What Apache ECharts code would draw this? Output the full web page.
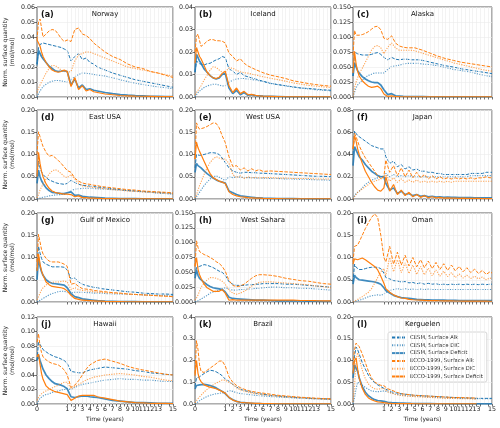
<!DOCTYPE html>
<html>
<head>
<meta charset="utf-8">
<script src="https://cdn.jsdelivr.net/npm/echarts@6/dist/echarts.min.js"></script>
<style>
html, body { margin: 0; padding: 0; background: #fff; }
#main { width: 500px; height: 428px; }
</style>
</head>
<body>
<div id="main"></div>
<script>
// time grids in years (first year is stretched on the axis)
var tShort = [0,0.05,0.1,0.15,0.2,0.3,0.4,0.5,0.6,0.7,0.8,0.9,1,
  1.5,2,2.5,3,3.5,4,4.5,5,5.5,6,
  7,8,9,10,11,12,13,14,15];
var tLong = [0,0.05,0.1,0.15,0.2,0.3,0.4,0.5,0.6,0.7,0.8,0.9,1,
  1.25,1.75,2.25,2.75,3.25,3.75,4.25,4.75,5.25,5.75,6.25,6.75,7.25,7.75,8.25,8.75,
  9.25,9.75,10.25,10.75,11.25,11.75,12.25,12.75,13.25,13.75,14.25,14.75,
  15];
var yearLabels = [0,1,2,3,4,5,6,7,8,9,10,11,12,13,14,15];
var yearTicks = [0,1,1.5,2,2.5,3,3.5,4,4.5,5,5.5,6,6.5,7,7.5,8,8.5,9,9.5,10,10.5,11,11.5,12,12.5,13,13.5,14,14.5,15];

var seriesNames = ['CESM, Surface Alk','CESM, Surface DIC','CESM, Surface Deficit',
  'ECCO-1999, Surface Alk','ECCO-1999, Surface DIC','ECCO-1999, Surface Deficit'];

// (a) Norway
var norwayCesmAlk = [0.021,0.033,0.035,0.036,0.036,0.0355,0.035,0.0345,0.034,0.0335,0.033,0.032,0.031,
  0.024,0.027,0.029,0.025,0.026,0.023,0.022,0.020,0.019,0.018,
  0.016,0.0145,0.013,0.0115,0.0105,0.0095,0.0085,0.0075,0.0065];
var norwayCesmDic = [0,0.002,0.004,0.0055,0.007,0.0085,0.0098,0.0105,0.011,0.011,0.0108,0.0103,0.010,
  0.0115,0.0135,0.015,0.016,0.0158,0.0155,0.015,0.0147,0.0143,0.014,
  0.0128,0.0115,0.0103,0.0092,0.0083,0.0075,0.0068,0.0062,0.0056];
var norwayCesmDef = [0.022,0.031,0.029,0.027,0.0255,0.023,0.0205,0.019,0.0175,0.017,0.0172,0.0175,0.017,
  0.008,0.012,0.006,0.008,0.005,0.0055,0.0045,0.004,0.0035,0.003,
  0.0022,0.0016,0.0012,0.0009,0.0007,0.0005,0.0004,0.0003,0.0002];
var norwayEccoAlk = [0.038,0.050,0.052,0.046,0.040,0.042,0.044,0.045,0.0445,0.042,0.039,0.037,0.038,
  0.037,0.045,0.046,0.042,0.041,0.039,0.036,0.034,0.032,0.030,
  0.027,0.025,0.022,0.020,0.019,0.017,0.016,0.0145,0.013];
var norwayEccoDic = [0.003,0.006,0.008,0.010,0.012,0.016,0.019,0.021,0.021,0.0195,0.018,0.017,0.0165,
  0.017,0.024,0.028,0.029,0.030,0.030,0.029,0.028,0.027,0.026,
  0.024,0.022,0.020,0.019,0.018,0.017,0.016,0.015,0.014];
var norwayEccoDef = [0.038,0.039,0.034,0.030,0.027,0.023,0.020,0.018,0.017,0.0165,0.017,0.018,0.017,
  0.007,0.013,0.005,0.0075,0.004,0.005,0.0035,0.003,0.0025,0.002,
  0.0015,0.001,0.0008,0.0006,0.0005,0.0004,0.0003,0.0003,0.0002];

// (b) Iceland
var icelandCesmAlk = [0.011,0.016,0.0155,0.0148,0.014,0.0142,0.0148,0.015,0.0158,0.0165,0.017,0.018,0.0175,
  0.0125,0.0115,0.010,0.011,0.0095,0.009,0.0085,0.008,0.0075,0.007,
  0.006,0.0055,0.005,0.0045,0.004,0.0038,0.0035,0.0032,0.003];
var icelandCesmDic = [0,0.001,0.002,0.0027,0.0032,0.0042,0.0049,0.0053,0.0057,0.0057,0.0053,0.0049,0.005,
  0.0065,0.0075,0.008,0.0082,0.0082,0.008,0.0078,0.0075,0.0072,0.0069,
  0.0062,0.0055,0.0049,0.0044,0.004,0.0036,0.0032,0.003,0.0027];
var icelandCesmDef = [0.011,0.019,0.0175,0.016,0.015,0.0125,0.011,0.0095,0.0085,0.008,0.0085,0.010,0.0105,
  0.004,0.0015,0.003,0.001,0.002,0.0008,0.001,0.0006,0.0005,0.0004,
  0.0003,0.0002,0.0001,0.0001,0.0001,0.0001,0.0001,0.0001,0.0001];
var icelandEccoAlk = [0.020,0.027,0.028,0.025,0.0225,0.0235,0.0248,0.0255,0.0255,0.025,0.025,0.0248,0.024,
  0.0195,0.018,0.016,0.017,0.015,0.0138,0.013,0.0122,0.0115,0.0108,
  0.0097,0.009,0.0082,0.0072,0.0066,0.006,0.0055,0.0051,0.0048];
var icelandEccoDic = [0.001,0.002,0.003,0.004,0.005,0.0075,0.0097,0.012,0.0134,0.0132,0.012,0.011,0.011,
  0.013,0.0128,0.0118,0.0112,0.0108,0.0106,0.0102,0.0098,0.0094,0.009,
  0.0083,0.0077,0.007,0.0063,0.0057,0.0052,0.0048,0.0045,0.0042];
var icelandEccoDef = [0.015,0.022,0.020,0.018,0.017,0.014,0.011,0.0095,0.0085,0.0082,0.0088,0.0105,0.0115,
  0.005,0.002,0.004,0.0015,0.0025,0.001,0.0012,0.0007,0.0005,0.0004,
  0.0003,0.0002,0.0001,0.0001,0.0001,0.0001,0.0001,0.0001,0.0001];

// (c) Alaska
var alaskaCesmAlk = [0.035,0.075,0.073,0.072,0.071,0.070,0.070,0.070,0.071,0.073,0.074,0.071,0.066,
  0.062,0.066,0.063,0.062,0.063,0.063,0.062,0.062,0.062,0.061,
  0.058,0.055,0.052,0.050,0.047,0.045,0.043,0.041,0.039];
var alaskaCesmDic = [0,0.008,0.015,0.020,0.023,0.028,0.033,0.036,0.038,0.040,0.040,0.040,0.040,
  0.046,0.051,0.052,0.053,0.055,0.056,0.056,0.056,0.056,0.055,
  0.054,0.052,0.049,0.046,0.044,0.042,0.039,0.036,0.034];
var alaskaCesmDef = [0.035,0.057,0.050,0.044,0.040,0.034,0.030,0.027,0.025,0.024,0.024,0.020,0.012,
  0.004,0.0055,0.002,0.0015,0.001,0.0008,0.0007,0.0006,0.0005,0.0005,
  0.0004,0.0003,0.0003,0.0002,0.0002,0.0002,0.0001,0.0001,0.0001];
var alaskaEccoAlk = [0.070,0.111,0.103,0.102,0.103,0.104,0.106,0.109,0.113,0.117,0.118,0.112,0.098,
  0.096,0.102,0.090,0.085,0.083,0.082,0.082,0.082,0.080,0.078,
  0.073,0.068,0.064,0.061,0.058,0.056,0.054,0.052,0.050];
var alaskaEccoDic = [0,0.015,0.025,0.032,0.039,0.048,0.058,0.068,0.078,0.084,0.086,0.082,0.072,
  0.083,0.090,0.082,0.078,0.078,0.078,0.078,0.077,0.075,0.073,
  0.069,0.065,0.061,0.057,0.054,0.051,0.048,0.045,0.043];
var alaskaEccoDef = [0.040,0.076,0.055,0.043,0.035,0.027,0.022,0.018,0.016,0.017,0.018,0.014,0.005,
  0.001,0.002,0.0008,0.0005,0.0004,0.0003,0.0003,0.0002,0.0002,0.0002,
  0.0001,0.0001,0.0001,0.0001,0.0001,0.0001,0.0001,0.0001,0.0001];

// (d) East USA
var eastUsaCesmAlk = [0.050,0.085,0.070,0.061,0.055,0.048,0.043,0.040,0.037,0.035,0.034,0.033,0.035,
  0.042,0.037,0.033,0.031,0.030,0.029,0.028,0.027,0.026,0.025,
  0.023,0.021,0.019,0.018,0.017,0.016,0.015,0.014,0.013];
var eastUsaCesmDic = [0,0.001,0.002,0.003,0.004,0.005,0.007,0.008,0.009,0.0095,0.010,0.0105,0.012,
  0.018,0.022,0.023,0.024,0.024,0.024,0.0235,0.023,0.0225,0.022,
  0.021,0.020,0.019,0.018,0.016,0.015,0.013,0.012,0.011];
var eastUsaCesmDef = [0.035,0.065,0.050,0.041,0.035,0.025,0.019,0.015,0.014,0.013,0.012,0.012,0.014,
  0.016,0.008,0.009,0.006,0.005,0.004,0.0035,0.003,0.0025,0.002,
  0.0015,0.001,0.001,0.0008,0.0006,0.0005,0.0004,0.0003,0.0003];
var eastUsaEccoAlk = [0.100,0.151,0.140,0.128,0.118,0.105,0.096,0.098,0.093,0.087,0.080,0.072,0.064,
  0.060,0.047,0.040,0.036,0.034,0.033,0.031,0.030,0.028,0.027,
  0.025,0.023,0.021,0.020,0.018,0.017,0.016,0.015,0.014];
var eastUsaEccoDic = [0.002,0.010,0.020,0.027,0.033,0.045,0.056,0.063,0.066,0.063,0.057,0.051,0.048,
  0.055,0.045,0.035,0.030,0.028,0.027,0.026,0.025,0.024,0.023,
  0.021,0.020,0.018,0.017,0.016,0.015,0.014,0.013,0.012];
var eastUsaEccoDef = [0.050,0.105,0.080,0.062,0.050,0.034,0.024,0.018,0.015,0.013,0.012,0.011,0.011,
  0.010,0.005,0.007,0.003,0.003,0.002,0.0018,0.0015,0.0012,0.001,
  0.0008,0.0005,0.0004,0.0004,0.0003,0.0003,0.0002,0.0002,0.0002];

// (e) West USA
var westUsaCesmAlk = [0.070,0.100,0.098,0.098,0.099,0.100,0.102,0.104,0.104,0.103,0.100,0.092,0.082,
  0.070,0.063,0.060,0.058,0.060,0.060,0.059,0.059,0.058,0.058,
  0.057,0.056,0.055,0.054,0.053,0.052,0.051,0.051,0.050];
var westUsaCesmDic = [0,0.004,0.010,0.015,0.020,0.030,0.038,0.045,0.050,0.052,0.049,0.045,0.042,
  0.050,0.048,0.050,0.049,0.048,0.048,0.048,0.047,0.047,0.047,
  0.046,0.046,0.045,0.045,0.044,0.044,0.043,0.043,0.042];
var westUsaCesmDef = [0.060,0.080,0.075,0.072,0.070,0.063,0.057,0.052,0.047,0.043,0.040,0.038,0.036,
  0.018,0.014,0.010,0.007,0.006,0.005,0.004,0.003,0.0025,0.002,
  0.0015,0.001,0.001,0.0008,0.0006,0.0005,0.0004,0.0003,0.0003];
var westUsaEccoAlk = [0.090,0.171,0.162,0.157,0.158,0.160,0.163,0.167,0.171,0.170,0.160,0.142,0.127,
  0.095,0.073,0.075,0.065,0.070,0.063,0.068,0.063,0.066,0.062,
  0.063,0.062,0.061,0.060,0.059,0.058,0.057,0.056,0.055];
var westUsaEccoDic = [0.002,0.010,0.020,0.030,0.038,0.055,0.070,0.082,0.090,0.095,0.092,0.090,0.090,
  0.080,0.055,0.048,0.052,0.046,0.050,0.047,0.049,0.047,0.048,
  0.048,0.047,0.047,0.046,0.046,0.046,0.045,0.045,0.045];
var westUsaEccoDef = [0.090,0.128,0.115,0.107,0.100,0.085,0.070,0.057,0.048,0.044,0.040,0.038,0.035,
  0.016,0.010,0.007,0.005,0.004,0.003,0.0025,0.002,0.0018,0.0015,
  0.001,0.0008,0.0006,0.0005,0.0004,0.0003,0.0003,0.0002,0.0002];

// (f) Japan (tLong)
var japanCesmAlk = [0.040,0.061,0.059,0.057,0.056,0.054,0.052,0.050,0.048,0.047,0.046,0.045,0.045,
  0.038,0.032,0.034,0.029,0.031,0.027,0.029,0.026,0.027,0.025,0.025,0.024,0.024,0.023,
  0.023,0.022,0.022,0.022,0.022,0.022,0.022,0.022,0.023,0.023,0.023,0.023,0.024,0.024,
  0.024];
var japanCesmDic = [0,0.003,0.005,0.006,0.007,0.010,0.013,0.015,0.017,0.018,0.019,0.020,0.021,
  0.023,0.020,0.022,0.020,0.021,0.020,0.021,0.020,0.020,0.020,0.020,0.020,0.020,0.020,
  0.020,0.020,0.020,0.020,0.020,0.020,0.020,0.020,0.021,0.021,0.021,0.021,0.021,0.021,
  0.021];
var japanCesmDef = [0.030,0.047,0.044,0.041,0.038,0.035,0.031,0.028,0.025,0.023,0.021,0.020,0.020,
  0.014,0.008,0.010,0.005,0.007,0.004,0.005,0.003,0.004,0.0025,0.003,0.002,0.0025,0.0018,
  0.002,0.0015,0.0016,0.0014,0.0014,0.0013,0.0013,0.0012,0.0012,0.0011,0.0011,0.001,0.001,0.001,
  0.001];
var japanEccoAlk = [0.045,0.059,0.056,0.052,0.048,0.042,0.037,0.033,0.029,0.025,0.021,0.018,0.020,
  0.035,0.024,0.030,0.021,0.028,0.020,0.026,0.019,0.024,0.019,0.022,0.018,0.021,0.018,
  0.020,0.018,0.019,0.018,0.019,0.018,0.019,0.018,0.019,0.018,0.019,0.019,0.020,0.019,
  0.0195];
var japanEccoDic = [0,0.002,0.004,0.006,0.007,0.009,0.011,0.013,0.015,0.016,0.017,0.018,0.020,
  0.022,0.016,0.019,0.015,0.018,0.015,0.017,0.015,0.017,0.015,0.016,0.015,0.016,0.015,
  0.016,0.015,0.016,0.015,0.016,0.016,0.016,0.016,0.016,0.016,0.016,0.016,0.016,0.016,
  0.016];
var japanEccoDef = [0.045,0.057,0.052,0.045,0.040,0.032,0.025,0.020,0.015,0.011,0.008,0.007,0.010,
  0.020,0.007,0.013,0.004,0.008,0.003,0.006,0.002,0.004,0.0015,0.003,0.0012,0.002,0.001,
  0.0015,0.0008,0.001,0.0007,0.0008,0.0006,0.0007,0.0005,0.0006,0.0005,0.0005,0.0004,0.0004,0.0004,
  0.0004];

// (g) Gulf of Mexico
var gulfCesmAlk = [0.070,0.125,0.110,0.098,0.090,0.085,0.082,0.079,0.079,0.079,0.079,0.078,0.072,
  0.052,0.054,0.045,0.040,0.037,0.035,0.033,0.032,0.030,0.029,
  0.027,0.025,0.023,0.022,0.020,0.019,0.018,0.018,0.017];
var gulfCesmDic = [0,0.002,0.004,0.006,0.008,0.012,0.016,0.019,0.021,0.023,0.024,0.024,0.022,
  0.020,0.022,0.022,0.022,0.021,0.021,0.020,0.020,0.020,0.019,
  0.018,0.018,0.017,0.017,0.016,0.016,0.015,0.015,0.015];
var gulfCesmDef = [0.050,0.100,0.080,0.068,0.060,0.050,0.045,0.042,0.041,0.040,0.039,0.038,0.032,
  0.019,0.012,0.010,0.007,0.006,0.005,0.004,0.003,0.0025,0.002,
  0.0015,0.001,0.001,0.0008,0.0006,0.0005,0.0004,0.0004,0.0003];
var gulfEccoAlk = [0.090,0.152,0.135,0.118,0.108,0.098,0.092,0.090,0.090,0.090,0.088,0.085,0.080,
  0.040,0.042,0.035,0.030,0.029,0.028,0.026,0.025,0.024,0.023,
  0.021,0.020,0.018,0.017,0.016,0.015,0.014,0.013,0.012];
var gulfEccoDic = [0.005,0.012,0.020,0.027,0.032,0.038,0.043,0.044,0.045,0.045,0.046,0.047,0.045,
  0.028,0.032,0.028,0.026,0.025,0.024,0.023,0.022,0.0215,0.021,
  0.020,0.019,0.018,0.017,0.016,0.015,0.014,0.013,0.012];
var gulfEccoDef = [0.070,0.108,0.085,0.070,0.060,0.045,0.039,0.035,0.034,0.033,0.032,0.030,0.025,
  0.015,0.008,0.006,0.004,0.0035,0.003,0.0025,0.002,0.0018,0.0015,
  0.001,0.0008,0.0006,0.0005,0.0004,0.0004,0.0003,0.0003,0.0002];

// (h) West Sahara
var saharaCesmAlk = [0.045,0.058,0.059,0.060,0.061,0.063,0.062,0.060,0.058,0.055,0.052,0.050,0.045,
  0.034,0.030,0.028,0.028,0.028,0.029,0.029,0.030,0.030,0.031,
  0.031,0.031,0.030,0.030,0.029,0.028,0.027,0.026,0.025];
var saharaCesmDic = [0,0.001,0.002,0.004,0.005,0.008,0.011,0.015,0.017,0.018,0.020,0.022,0.024,
  0.022,0.020,0.020,0.021,0.021,0.022,0.022,0.023,0.023,0.024,
  0.025,0.025,0.024,0.024,0.023,0.023,0.022,0.021,0.020];
var saharaCesmDef = [0.040,0.054,0.045,0.040,0.037,0.033,0.029,0.026,0.024,0.023,0.022,0.021,0.017,
  0.008,0.006,0.0055,0.005,0.0045,0.004,0.0035,0.003,0.003,0.003,
  0.0025,0.002,0.002,0.002,0.0018,0.0016,0.0014,0.0012,0.001];
var saharaEccoAlk = [0.060,0.103,0.092,0.085,0.082,0.080,0.078,0.075,0.072,0.068,0.065,0.060,0.052,
  0.036,0.028,0.026,0.027,0.030,0.035,0.040,0.044,0.046,0.046,
  0.045,0.043,0.040,0.038,0.036,0.035,0.033,0.031,0.030];
var saharaEccoDic = [0.003,0.007,0.012,0.018,0.025,0.032,0.037,0.041,0.041,0.040,0.038,0.035,0.030,
  0.020,0.015,0.013,0.015,0.018,0.022,0.027,0.030,0.033,0.034,
  0.034,0.033,0.032,0.031,0.030,0.029,0.027,0.026,0.024];
var saharaEccoDef = [0.060,0.075,0.055,0.046,0.040,0.030,0.024,0.021,0.018,0.018,0.018,0.021,0.015,
  0.003,0.004,0.003,0.003,0.003,0.003,0.003,0.003,0.003,0.003,
  0.003,0.003,0.003,0.003,0.0025,0.0025,0.0022,0.002,0.002];

// (i) Oman (tLong)
var omanCesmAlk = [0.045,0.085,0.078,0.075,0.073,0.073,0.075,0.077,0.078,0.078,0.078,0.075,0.065,
  0.055,0.052,0.048,0.047,0.045,0.046,0.043,0.044,0.041,0.043,0.040,0.042,0.040,0.041,
  0.039,0.040,0.039,0.040,0.039,0.040,0.039,0.040,0.039,0.040,0.039,0.040,0.039,0.040,
  0.040];
var omanCesmDic = [0,0.001,0.002,0.003,0.004,0.006,0.009,0.012,0.014,0.015,0.016,0.015,0.018,
  0.022,0.026,0.028,0.030,0.028,0.030,0.028,0.029,0.028,0.029,0.028,0.029,0.028,0.028,
  0.028,0.028,0.028,0.028,0.028,0.028,0.028,0.028,0.028,0.028,0.028,0.028,0.028,0.028,
  0.028];
var omanCesmDef = [0.040,0.060,0.055,0.052,0.050,0.049,0.048,0.047,0.046,0.045,0.043,0.040,0.032,
  0.026,0.020,0.015,0.012,0.010,0.009,0.008,0.007,0.006,0.0055,0.005,0.005,0.0045,0.0042,
  0.004,0.004,0.0038,0.0036,0.0035,0.0034,0.0033,0.0032,0.0031,0.003,0.003,0.003,0.003,0.003,
  0.003];
var omanEccoAlk = [0.090,0.125,0.125,0.128,0.135,0.150,0.165,0.178,0.190,0.198,0.190,0.150,0.100,
  0.090,0.125,0.085,0.112,0.083,0.105,0.081,0.100,0.079,0.095,0.077,0.092,0.075,0.089,
  0.073,0.086,0.071,0.083,0.070,0.080,0.068,0.077,0.066,0.074,0.064,0.071,0.062,0.068,
  0.065];
var omanEccoDic = [0,0.002,0.004,0.006,0.008,0.012,0.017,0.022,0.030,0.042,0.055,0.068,0.075,
  0.060,0.100,0.068,0.095,0.066,0.088,0.064,0.083,0.062,0.080,0.061,0.076,0.059,0.072,
  0.058,0.069,0.057,0.066,0.055,0.063,0.054,0.060,0.053,0.058,0.052,0.056,0.050,0.054,
  0.051];
var omanEccoDef = [0.085,0.097,0.093,0.095,0.097,0.099,0.095,0.090,0.085,0.080,0.072,0.058,0.042,
  0.030,0.022,0.016,0.012,0.009,0.008,0.006,0.005,0.0045,0.004,0.0035,0.003,0.003,0.003,
  0.0028,0.0026,0.0025,0.0024,0.0023,0.0022,0.0021,0.002,0.002,0.002,0.0019,0.0018,0.0018,0.0017,
  0.0017];

// (j) Hawaii
var hawaiiCesmAlk = [0.060,0.085,0.083,0.079,0.075,0.072,0.069,0.067,0.065,0.064,0.062,0.060,0.056,
  0.045,0.044,0.043,0.043,0.045,0.047,0.048,0.049,0.050,0.051,
  0.050,0.049,0.048,0.046,0.045,0.043,0.042,0.041,0.040];
var hawaiiCesmDic = [0,0.004,0.008,0.010,0.011,0.013,0.014,0.016,0.017,0.018,0.019,0.020,0.021,
  0.020,0.023,0.025,0.027,0.028,0.029,0.030,0.031,0.032,0.033,
  0.034,0.035,0.034,0.034,0.033,0.033,0.032,0.031,0.031];
var hawaiiCesmDef = [0.060,0.068,0.060,0.054,0.048,0.040,0.035,0.031,0.028,0.027,0.026,0.024,0.021,
  0.010,0.009,0.010,0.011,0.011,0.010,0.0095,0.009,0.008,0.007,
  0.005,0.004,0.003,0.002,0.002,0.0015,0.001,0.001,0.0008];
var hawaiiEccoAlk = [0.085,0.097,0.080,0.071,0.065,0.061,0.058,0.056,0.055,0.054,0.051,0.047,0.040,
  0.023,0.026,0.032,0.040,0.048,0.054,0.057,0.060,0.061,0.062,
  0.059,0.056,0.052,0.049,0.047,0.045,0.043,0.041,0.040];
var hawaiiEccoDic = [0.005,0.009,0.012,0.014,0.016,0.018,0.020,0.022,0.024,0.026,0.028,0.030,0.030,
  0.021,0.024,0.027,0.030,0.033,0.035,0.037,0.038,0.039,0.040,
  0.041,0.042,0.041,0.040,0.038,0.037,0.035,0.033,0.032];
var hawaiiEccoDef = [0.065,0.069,0.055,0.042,0.034,0.025,0.021,0.019,0.017,0.016,0.015,0.014,0.013,
  0.005,0.008,0.011,0.012,0.012,0.012,0.012,0.010,0.009,0.008,
  0.006,0.004,0.003,0.002,0.0015,0.001,0.001,0.0008,0.0006];

// (k) Brazil
var brazilCesmAlk = [0.080,0.120,0.121,0.125,0.130,0.140,0.148,0.155,0.153,0.148,0.140,0.130,0.115,
  0.105,0.090,0.078,0.068,0.062,0.058,0.054,0.050,0.047,0.045,
  0.040,0.037,0.034,0.031,0.029,0.027,0.025,0.024,0.023];
var brazilCesmDic = [0,0.005,0.010,0.015,0.020,0.028,0.035,0.040,0.044,0.047,0.049,0.051,0.053,
  0.062,0.058,0.052,0.048,0.046,0.044,0.042,0.040,0.038,0.037,
  0.034,0.032,0.030,0.028,0.026,0.025,0.023,0.022,0.021];
var brazilCesmDef = [0.070,0.085,0.086,0.088,0.090,0.090,0.088,0.085,0.080,0.074,0.066,0.058,0.048,
  0.030,0.020,0.012,0.008,0.006,0.004,0.003,0.002,0.0015,0.001,
  0.001,0.0008,0.0006,0.0005,0.0004,0.0003,0.0003,0.0002,0.0002];
var brazilEccoAlk = [0.140,0.291,0.250,0.180,0.150,0.145,0.155,0.165,0.175,0.185,0.197,0.198,0.175,
  0.125,0.100,0.085,0.075,0.068,0.062,0.058,0.055,0.052,0.050,
  0.045,0.040,0.037,0.034,0.031,0.029,0.027,0.025,0.024];
var brazilEccoDic = [0.005,0.015,0.025,0.033,0.040,0.055,0.067,0.078,0.088,0.096,0.103,0.110,0.110,
  0.100,0.090,0.075,0.065,0.060,0.055,0.051,0.048,0.045,0.043,
  0.039,0.035,0.032,0.030,0.028,0.026,0.024,0.022,0.021];
var brazilEccoDef = [0.130,0.200,0.140,0.115,0.103,0.088,0.082,0.077,0.074,0.070,0.064,0.057,0.050,
  0.030,0.018,0.012,0.008,0.006,0.005,0.004,0.003,0.0025,0.002,
  0.0015,0.001,0.0008,0.0006,0.0005,0.0004,0.0003,0.0003,0.0002];

// (l) Kerguelen
var kerguelenCesmAlk = [0.070,0.110,0.131,0.125,0.115,0.095,0.080,0.066,0.056,0.049,0.044,0.040,0.036,
  0.032,0.028,0.026,0.024,0.023,0.022,0.021,0.020,0.0195,0.019,
  0.018,0.017,0.016,0.015,0.014,0.014,0.013,0.013,0.013];
var kerguelenCesmDic = [0,0.015,0.035,0.050,0.050,0.043,0.038,0.034,0.030,0.029,0.028,0.029,0.030,
  0.028,0.025,0.023,0.021,0.020,0.019,0.0185,0.018,0.0175,0.017,
  0.016,0.015,0.014,0.014,0.013,0.013,0.012,0.012,0.012];
var kerguelenCesmDef = [0.060,0.090,0.089,0.075,0.060,0.040,0.027,0.019,0.014,0.010,0.008,0.007,0.006,
  0.004,0.003,0.0025,0.002,0.0018,0.0015,0.0013,0.0012,0.001,0.001,
  0.0008,0.0006,0.0005,0.0004,0.0004,0.0003,0.0003,0.0003,0.0002];
var kerguelenEccoAlk = [0.090,0.125,0.140,0.142,0.132,0.115,0.095,0.075,0.060,0.051,0.046,0.043,0.042,
  0.035,0.032,0.028,0.025,0.023,0.022,0.021,0.020,0.0195,0.019,
  0.018,0.017,0.016,0.015,0.015,0.014,0.014,null,null];
var kerguelenEccoDic = [0.005,0.040,0.100,0.118,0.105,0.078,0.058,0.046,0.039,0.035,0.034,0.035,0.036,
  0.028,0.025,0.022,0.020,0.019,0.018,0.0175,0.017,0.0165,0.016,
  0.015,0.014,0.013,0.013,0.012,0.012,0.011,null,null];
var kerguelenEccoDef = [0.070,0.100,0.106,0.080,0.060,0.036,0.022,0.014,0.010,0.007,0.005,0.004,0.003,
  0.002,0.0015,0.0012,0.001,0.0009,0.0008,0.0007,0.0006,0.0005,0.0005,
  0.0004,0.0003,0.0003,0.0003,0.0002,0.0002,0.0002,null,null];

var panels = [
  {tag:'(a)', name:'Norway', t:tShort, max:0.06, step:0.01, dec:2,
   data:[norwayCesmAlk, norwayCesmDic, norwayCesmDef, norwayEccoAlk, norwayEccoDic, norwayEccoDef]},
  {tag:'(b)', name:'Iceland', t:tShort, max:0.04, step:0.01, dec:2,
   data:[icelandCesmAlk, icelandCesmDic, icelandCesmDef, icelandEccoAlk, icelandEccoDic, icelandEccoDef]},
  {tag:'(c)', name:'Alaska', t:tShort, max:0.15, step:0.025, dec:3,
   data:[alaskaCesmAlk, alaskaCesmDic, alaskaCesmDef, alaskaEccoAlk, alaskaEccoDic, alaskaEccoDef]},
  {tag:'(d)', name:'East USA', t:tShort, max:0.2, step:0.05, dec:2,
   data:[eastUsaCesmAlk, eastUsaCesmDic, eastUsaCesmDef, eastUsaEccoAlk, eastUsaEccoDic, eastUsaEccoDef]},
  {tag:'(e)', name:'West USA', t:tShort, max:0.2, step:0.05, dec:2,
   data:[westUsaCesmAlk, westUsaCesmDic, westUsaCesmDef, westUsaEccoAlk, westUsaEccoDic, westUsaEccoDef]},
  {tag:'(f)', name:'Japan', t:tLong, max:0.08, step:0.02, dec:2,
   data:[japanCesmAlk, japanCesmDic, japanCesmDef, japanEccoAlk, japanEccoDic, japanEccoDef]},
  {tag:'(g)', name:'Gulf of Mexico', t:tShort, max:0.2, step:0.05, dec:2,
   data:[gulfCesmAlk, gulfCesmDic, gulfCesmDef, gulfEccoAlk, gulfEccoDic, gulfEccoDef]},
  {tag:'(h)', name:'West Sahara', t:tShort, max:0.15, step:0.025, dec:3,
   data:[saharaCesmAlk, saharaCesmDic, saharaCesmDef, saharaEccoAlk, saharaEccoDic, saharaEccoDef]},
  {tag:'(i)', name:'Oman', t:tLong, max:0.2, step:0.05, dec:2,
   data:[omanCesmAlk, omanCesmDic, omanCesmDef, omanEccoAlk, omanEccoDic, omanEccoDef]},
  {tag:'(j)', name:'Hawaii', t:tShort, max:0.12, step:0.02, dec:2,
   data:[hawaiiCesmAlk, hawaiiCesmDic, hawaiiCesmDef, hawaiiEccoAlk, hawaiiEccoDic, hawaiiEccoDef]},
  {tag:'(k)', name:'Brazil', t:tShort, max:0.4, step:0.1, dec:1,
   data:[brazilCesmAlk, brazilCesmDic, brazilCesmDef, brazilEccoAlk, brazilEccoDic, brazilEccoDef]},
  {tag:'(l)', name:'Kerguelen', t:tShort, max:0.2, step:0.05, dec:2,
   data:[kerguelenCesmAlk, kerguelenCesmDic, kerguelenCesmDef, kerguelenEccoAlk, kerguelenEccoDic, kerguelenEccoDef]}
];

// first year gets K axis units, later years one unit each
var K = 4;
function xPos(t) { return t <= 1 ? t * K : K + (t - 1); }

var FONT = 'DejaVu Sans';
var lineStyles = [
  {color:'#1f77b4', width:1, type:[3.5, 1.5], opacity:1},
  {color:'#1f77b4', width:1.1, type:[1.2, 1.3], opacity:0.75},
  {color:'#1f77b4', width:1.7, type:'solid', opacity:0.85},
  {color:'#ff7f0e', width:1, type:[3.5, 1.5], opacity:1},
  {color:'#ff7f0e', width:1.1, type:[1.2, 1.3], opacity:0.7},
  {color:'#ff7f0e', width:1.2, type:'solid', opacity:1}
];

var colLeft = [37, 195, 353], colWidth = [136, 136, 139];
var rowTop = [7, 110, 213, 317], rowHeight = [90, 89, 89, 87];

var grids = [], xAxes = [], yAxes = [], series = [], graphics = [];

panels.forEach(function (p, i) {
  var col = i % 3, row = Math.floor(i / 3);
  var gx = colLeft[col], gy = rowTop[row], gw = colWidth[col], gh = rowHeight[row];
  grids.push({left: gx, top: gy, width: gw, height: gh, show: true,
    borderColor: '#333', borderWidth: 0.8, backgroundColor: 'transparent'});

  xAxes.push({
    type: 'value', gridIndex: i, min: 0, max: xPos(15),
    axisLine: {show: false},
    axisTick: {show: true, length: 2.5, lineStyle: {color: '#333', width: 0.7},
      customValues: yearTicks.map(xPos)},
    axisLabel: {show: row === 3, customValues: yearLabels.map(xPos), fontSize: 6.3,
      color: '#222', fontFamily: FONT, margin: 2.5, showMaxLabel: true, showMinLabel: true,
      hideOverlap: false,
      formatter: function (v) { return v === 0 ? '0' : String(Math.round(v - K + 1)); }},
    splitLine: {show: false},
    name: row === 3 ? 'Time (years)' : '', nameLocation: 'middle', nameGap: 12,
    nameTextStyle: {fontSize: 6, color: '#222', fontFamily: FONT}
  });

  yAxes.push({
    type: 'value', gridIndex: i, min: 0, max: p.max, interval: p.step,
    axisLine: {show: false},
    axisTick: {show: true, length: 2.5, lineStyle: {color: '#333', width: 0.7}},
    axisLabel: {fontSize: 6.3, color: '#222', fontFamily: FONT, margin: 2,
      formatter: (function (d) { return function (v) { return v.toFixed(d); }; })(p.dec)},
    splitLine: {show: true, lineStyle: {color: '#ebebeb', width: 0.6}},
    name: col === 0 ? 'Norm. surface quantity\n(mol/mol)' : '',
    nameLocation: 'middle', nameGap: 21,
    nameTextStyle: {fontSize: 6, lineHeight: 7, color: '#222', fontFamily: FONT}
  });

  // vertical grid lines at half years
  series.push({
    type: 'line', name: 'grid' + i, xAxisIndex: i, yAxisIndex: i, data: [], z: 1, silent: true,
    markLine: {silent: true, symbol: ['none', 'none'], label: {show: false}, animation: false,
      lineStyle: {color: '#ebebeb', width: 0.6, type: 'solid'},
      data: yearTicks.slice(1).map(function (t) { return {xAxis: xPos(t)}; })}
  });

  p.data.forEach(function (vals, j) {
    var st = lineStyles[j];
    series.push({
      type: 'line', name: seriesNames[j], xAxisIndex: i, yAxisIndex: i,
      symbol: 'none', showSymbol: false, silent: true, z: 3 + j,
      data: p.t.map(function (t, k) { return [xPos(t), vals[k]]; }),
      lineStyle: {color: st.color, width: st.width, type: st.type, opacity: st.opacity},
      itemStyle: {color: st.color}
    });
  });

  graphics.push({type: 'text', x: gx + 4, y: gy + 4, z: 100,
    style: {text: p.tag, font: 'bold 8px "DejaVu Sans"', fill: '#111'}});
  graphics.push({type: 'text', x: gx + gw / 2, y: gy + 4, z: 100,
    style: {text: p.name, font: '7px "DejaVu Sans"', fill: '#111', align: 'center'}});
});

var option = {
  animation: false,
  backgroundColor: '#fff',
  textStyle: {fontFamily: FONT},
  grid: grids,
  xAxis: xAxes,
  yAxis: yAxes,
  legend: {
    data: seriesNames, orient: 'vertical', left: 388, top: 332,
    itemWidth: 13, itemHeight: 6, itemGap: 2.8, padding: [3, 4, 3, 3],
    backgroundColor: 'rgba(255,255,255,0.85)', borderColor: '#cccccc', borderWidth: 0.8,
    borderRadius: 2, selectedMode: false,
    itemStyle: {opacity: 0},
    textStyle: {fontSize: 5.3, color: '#222', fontFamily: FONT}
  },
  graphic: graphics,
  series: series
};

var myChart = echarts.init(document.getElementById('main'), null, {renderer: 'canvas', devicePixelRatio: 1});
myChart.setOption(option);
</script>
</body>
</html>
